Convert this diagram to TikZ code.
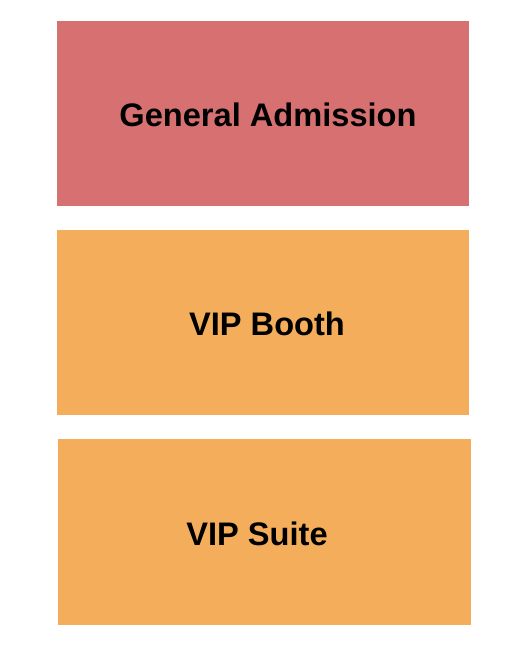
\documentclass[tikz,border=0pt]{standalone}
\usepackage{fontspec}
\setmainfont{Liberation Sans}
\definecolor{garose}{HTML}{D77171}
\definecolor{viporange}{HTML}{F4AE5B}
\begin{document}
\begin{tikzpicture}[x=1pt,y=-1pt,
  lbl/.style={font=\bfseries\fontsize{32.6}{36}\selectfont, text=black, inner sep=0pt, anchor=base}]
\useasboundingbox (0,0) rectangle (525,650);
\fill[garose] (57,21) rectangle (469,206);
\fill[viporange] (57,230) rectangle (469,415);
\fill[viporange] (58,439) rectangle (471,625);
\node[lbl] (ga) at (268,126) {General Admission};
\node[lbl] (booth) at (267,335) {VIP Booth};
\node[lbl] (suite) at (257,545) {VIP Suite};
\end{tikzpicture}
\end{document}
